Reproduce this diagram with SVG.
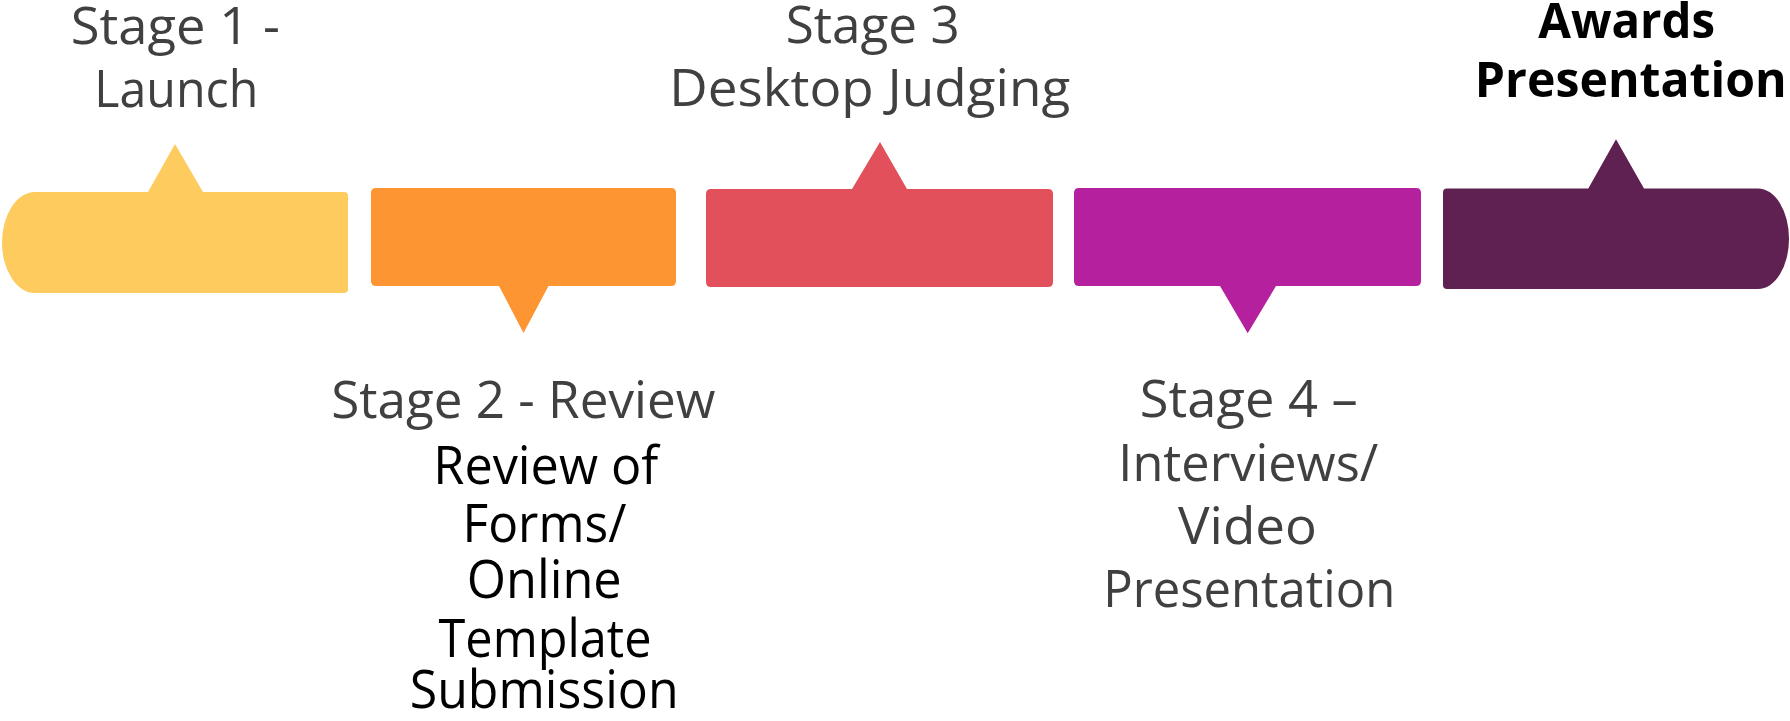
<svg xmlns="http://www.w3.org/2000/svg" width="1790" height="721" viewBox="0 0 1790 721">
<style>
.lbl{font-family:"Open Sans","Noto Sans","Liberation Sans",sans-serif;font-size:52px;fill:#404040;text-anchor:middle}
.blk{font-family:"Open Sans","Noto Sans","Liberation Sans",sans-serif;font-size:53px;fill:#000;text-anchor:middle}
.bold{font-family:"Open Sans","Noto Sans","Liberation Sans",sans-serif;font-size:49px;font-weight:bold;fill:#000;text-anchor:middle}
</style>
<rect width="1790" height="721" fill="#fff"/>
<g id="connectors"/>
<g id="stage1">
<path d="M35 192 L148 192 L175 144 L203 192 L344 192 Q348 192 348 196 L348 289 Q348 293 344 293 L35 293 A33 50.5 0 0 1 35 192 Z" fill="#FECB5F"/>
<text class="lbl" x="175.3" y="44.3" textLength="209" lengthAdjust="spacingAndGlyphs">Stage 1 -</text>
<text class="lbl" x="176.3" y="106.7" textLength="164" lengthAdjust="spacingAndGlyphs">Launch</text>
</g>
<g id="stage2">
<path d="M376 188 L671 188 Q676 188 676 193 L676 281 Q676 286 671 286 L548.5 286 L523.5 333 L499 286 L376 286 Q371 286 371 281 L371 193 Q371 188 376 188 Z" fill="#FE9533"/>
<text class="lbl" x="523.3" y="417.7" textLength="384" lengthAdjust="spacingAndGlyphs">Stage 2 - Review</text>
<text class="blk" x="545.8" y="484" textLength="225" lengthAdjust="spacingAndGlyphs">Review of</text>
<text class="blk" x="544.5" y="541.7" textLength="164" lengthAdjust="spacingAndGlyphs">Forms/</text>
<text class="blk" x="544.2" y="598.3" textLength="155" lengthAdjust="spacingAndGlyphs">Online</text>
<text class="blk" x="545" y="656.7" textLength="213" lengthAdjust="spacingAndGlyphs">Template</text>
<text class="blk" x="544.2" y="708" textLength="269" lengthAdjust="spacingAndGlyphs">Submission</text>
</g>
<g id="stage3">
<path d="M711 189 L852 189 L880 142 L907 189 L1048 189 Q1053 189 1053 194 L1053 282 Q1053 287 1048 287 L711 287 Q706 287 706 282 L706 194 Q706 189 711 189 Z" fill="#E2505C"/>
<text class="lbl" x="872.7" y="43.3" textLength="174" lengthAdjust="spacingAndGlyphs">Stage 3</text>
<text class="lbl" x="869.7" y="106" textLength="401" lengthAdjust="spacingAndGlyphs">Desktop Judging</text>
</g>
<g id="stage4">
<path d="M1079 188 L1416 188 Q1421 188 1421 193 L1421 281 Q1421 286 1416 286 L1276 286 L1247.7 333.3 L1220 286 L1079 286 Q1074 286 1074 281 L1074 193 Q1074 188 1079 188 Z" fill="#B5209E"/>
<text class="lbl" x="1248.8" y="416.7" textLength="218" lengthAdjust="spacingAndGlyphs">Stage 4 –</text>
<text class="lbl" x="1248.3" y="480.7" textLength="260" lengthAdjust="spacingAndGlyphs">Interviews/</text>
<text class="lbl" x="1247.5" y="544.3" textLength="139" lengthAdjust="spacingAndGlyphs">Video</text>
<text class="lbl" x="1249.2" y="606.7" textLength="292" lengthAdjust="spacingAndGlyphs">Presentation</text>
</g>
<g id="awards">
<path d="M1447 188.5 L1588.3 188.5 L1616 139.3 L1644 188.5 L1758 188.5 A31 50.25 0 0 1 1758 289 L1447 289 Q1443 289 1443 285 L1443 192.5 Q1443 188.5 1447 188.5 Z" fill="#5F2052"/>
<text class="bold" x="1626.7" y="38.3" textLength="177" lengthAdjust="spacingAndGlyphs">Awards</text>
<text class="bold" x="1630.8" y="96.7" textLength="312" lengthAdjust="spacingAndGlyphs">Presentation</text>
</g>
</svg>
